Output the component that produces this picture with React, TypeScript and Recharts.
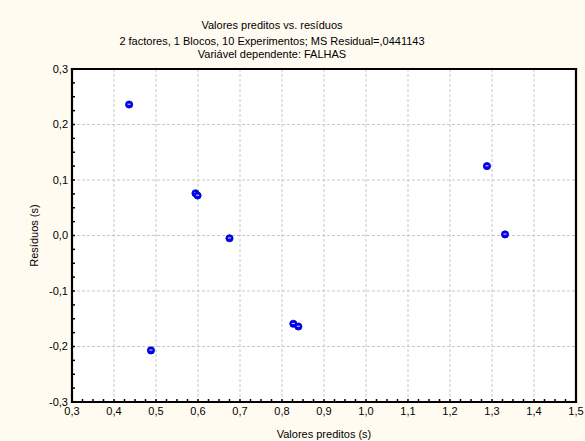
import React from 'react';
import {
  ScatterChart, Scatter, XAxis, YAxis, CartesianGrid,
} from 'recharts';

// valores preditos (x) e resíduos (y)
const preditos = [0.436, 0.594, 0.599, 0.675, 0.488, 0.827, 0.839, 1.288, 1.331];
const residuos = [0.236, 0.076, 0.072, -0.005, -0.207, -0.159, -0.164, 0.125, 0.002];

const xTicks = [0.3, 0.4, 0.5, 0.6, 0.7, 0.8, 0.9, 1.0, 1.1, 1.2, 1.3, 1.4, 1.5];
const yTicks = [-0.3, -0.2, -0.1, 0.0, 0.1, 0.2, 0.3];
const xMinor = [
  0.3, 0.325, 0.35, 0.375, 0.4, 0.425, 0.45, 0.475, 0.5, 0.525, 0.55, 0.575,
  0.6, 0.625, 0.65, 0.675, 0.7, 0.725, 0.75, 0.775, 0.8, 0.825, 0.85, 0.875,
  0.9, 0.925, 0.95, 0.975, 1.0, 1.025, 1.05, 1.075, 1.1, 1.125, 1.15, 1.175,
  1.2, 1.225, 1.25, 1.275, 1.3, 1.325, 1.35, 1.375, 1.4, 1.425, 1.45, 1.475, 1.5,
];
const yMinor = [
  -0.3, -0.275, -0.25, -0.225, -0.2, -0.175, -0.15, -0.125, -0.1, -0.075, -0.05, -0.025,
  0, 0.025, 0.05, 0.075, 0.1, 0.125, 0.15, 0.175, 0.2, 0.225, 0.25, 0.275, 0.3,
];

const titulo = ['Valores preditos vs. resíduos', '2 factores, 1 Blocos, 10 Experimentos; MS Residual=,0441143', 'Variável dependente: FALHAS'];

const data = preditos.map((x, i) => ({ x, y: residuos[i] }));

const fmt = (v: number) => v.toFixed(1).replace('.', ',');
const isMajor = (v: number) => Math.abs(v * 10 - Math.round(v * 10)) < 1e-6;
const FONT = '"Liberation Sans", Arial, sans-serif';
const MX = 4; // tickMargin eixo x
const MY = 4; // tickMargin eixo y

// área do gráfico (margens)
const M = { top: 69, right: 9, bottom: 39, left: 72 };
const W = 585;
const H = 441;

const Ponto = (props: any) => {
  const { cx, cy } = props;
  return (
    <g>
      <circle cx={cx} cy={cy} r={3.6} fill="#0000ff" stroke="#0000b0" strokeWidth={0.8} />
      <line x1={cx - 1.5} y1={cy - 0.3} x2={cx + 1.5} y2={cy - 0.3} stroke="#ffffff" strokeWidth={0.9} />
    </g>
  );
};

// tick do eixo x: traço interno + rótulo nos maiores
const TickX = (props: any) => {
  const { x, y, payload } = props;
  const v = payload.value;
  const y0 = y - MX;
  return (
    <g>
      <line x1={x} y1={y0} x2={x} y2={y0 - 3} stroke="#000" strokeWidth={1.5} />
      {isMajor(v) && (
        <text x={x} y={y} dy="0.85em" textAnchor="middle" fontSize={11} fontFamily={FONT} fill="#000">{fmt(v)}</text>
      )}
    </g>
  );
};

const TickY = (props: any) => {
  const { x, y, payload } = props;
  const v = payload.value;
  const x0 = x + MY;
  return (
    <g>
      <line x1={x0} y1={y} x2={x0 + 3} y2={y} stroke="#000" strokeWidth={1.5} />
      {isMajor(v) && (
        <text x={x} y={y} dy="0.35em" textAnchor="end" fontSize={11} fontFamily={FONT} fill="#000">{fmt(v)}</text>
      )}
    </g>
  );
};

const semRotulo = () => <g />;
const minorLine = { stroke: '#000', strokeWidth: 1.5 };

export default function App() {
  const x0 = M.left;
  const y0 = M.top;
  const x1 = W - M.right;
  const y1 = H - M.bottom;
  return (
    <div style={{ position: 'absolute', left: 0, top: 0, width: W, height: H, background: '#fffbf0', fontFamily: FONT }}>
      <div style={{ position: 'absolute', left: x0, top: y0, width: x1 - x0, height: y1 - y0, background: '#ffffff' }} />
      <svg width={W} height={70} style={{ position: 'absolute', left: 0, top: 0 }}>
        <text x={272} y={29} textAnchor="middle" fontSize={11} fontFamily={FONT}>{titulo[0]}</text>
        <text x={272} y={45} textAnchor="middle" fontSize={11} fontFamily={FONT}>{titulo[1]}</text>
        <text x={272} y={58} textAnchor="middle" fontSize={11} fontFamily={FONT}>{titulo[2]}</text>
      </svg>
      <ScatterChart
        width={W}
        height={H}
        margin={{ top: M.top, right: M.right, bottom: 0, left: M.left - 40 }}
        style={{ position: 'absolute', left: 0, top: 0 }}
      >
        <CartesianGrid xAxisId="gx" yAxisId="gy" stroke="#c8c8c8" strokeDasharray="3 2" />
        <XAxis
          type="number"
          dataKey="x"
          domain={[0.3, 1.5]}
          ticks={xMinor}
          interval={0}
          tick={<TickX />}
          tickLine={false}
          tickSize={0}
          tickMargin={MX}
          axisLine={false}
          height={M.bottom}
          allowDataOverflow
          label={{ value: 'Valores preditos (s)', position: 'insideBottom', offset: 3, fontSize: 11, fill: '#000', fontFamily: FONT }}
        />
        <XAxis xAxisId="gx" orientation="top" type="number" dataKey="x" domain={[0.3, 1.5]} ticks={xTicks} mirror tick={semRotulo} tickLine={false} axisLine={false} height={0} allowDataOverflow />
        <XAxis xAxisId="minT" orientation="top" type="number" dataKey="x" domain={[0.3, 1.5]} ticks={xMinor} interval={0} mirror tick={semRotulo} tickSize={3} tickLine={minorLine} axisLine={false} height={0} allowDataOverflow />
        <YAxis
          type="number"
          dataKey="y"
          domain={[-0.3, 0.3]}
          ticks={yMinor}
          interval={0}
          tick={<TickY />}
          tickLine={false}
          tickSize={0}
          tickMargin={MY}
          axisLine={false}
          width={40}
          allowDataOverflow
          label={{ value: 'Resíduos (s)', angle: -90, position: 'insideLeft', offset: 0, dx: 2, fontSize: 11, fill: '#000', fontFamily: FONT, style: { textAnchor: 'middle' } }}
        />
        <YAxis yAxisId="gy" orientation="right" type="number" dataKey="y" domain={[-0.3, 0.3]} ticks={yTicks} mirror tick={semRotulo} tickLine={false} axisLine={false} width={0} allowDataOverflow />
        <YAxis yAxisId="minR" orientation="right" type="number" dataKey="y" domain={[-0.3, 0.3]} ticks={yMinor} interval={0} mirror tick={semRotulo} tickSize={3} tickLine={minorLine} axisLine={false} width={0} allowDataOverflow />
        <Scatter data={data} shape={<Ponto />} isAnimationActive={false} />
      </ScatterChart>
      <svg width={W} height={H} style={{ position: 'absolute', left: 0, top: 0, pointerEvents: 'none' }}>
        <g stroke="#000" strokeWidth={2.2} strokeLinecap="square">
          <line x1={x0} y1={y0} x2={x1} y2={y0} />
          <line x1={x1} y1={y0} x2={x1} y2={y1} />
          <line x1={x0} y1={y1} x2={x1} y2={y1} />
          <line x1={x0} y1={y0} x2={x0} y2={y1} />
        </g>
      </svg>
    </div>
  );
}
